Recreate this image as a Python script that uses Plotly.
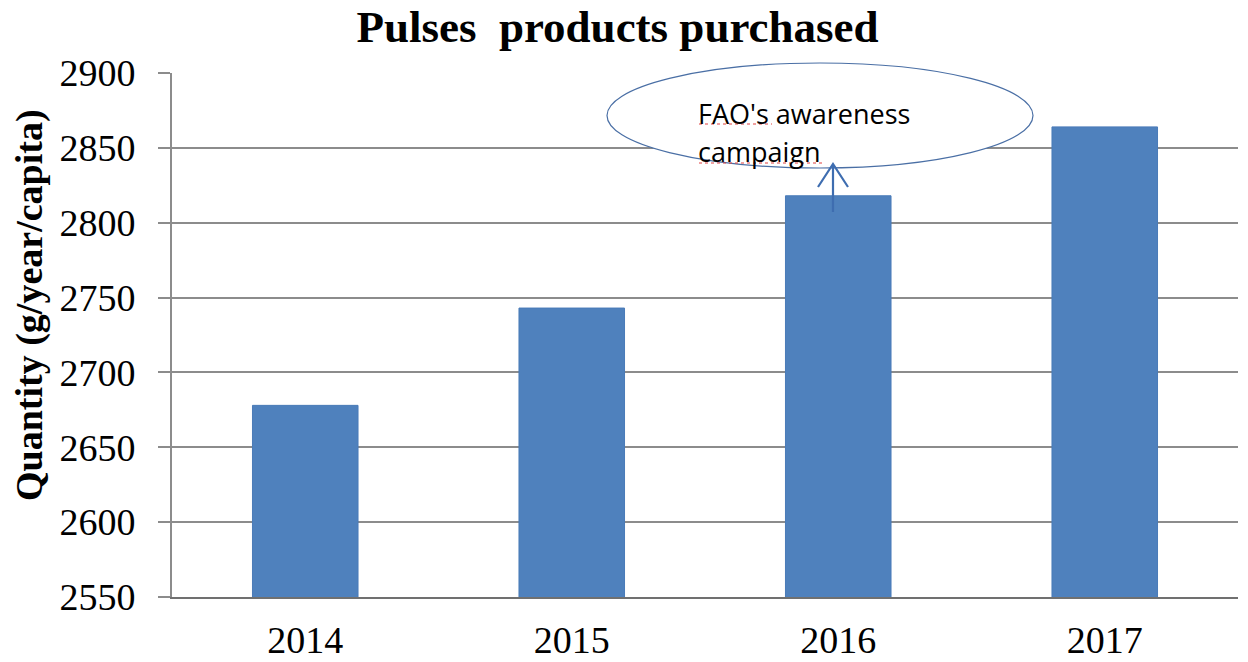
import plotly.graph_objects as go

years = ["2014", "2015", "2016", "2017"]
quantity = [2678, 2743, 2818, 2864]
y_ticks = [2550, 2600, 2650, 2700, 2750, 2800, 2850, 2900]

title_text = "Pulses\u00a0 products purchased"
y_title = "Quantity (g/year/capita)"
note_line1 = "FAO's awareness"
note_line2 = "campaign"

OFF = 8  # page body margin in the browser
W, H = 1248 - OFF, 662 - OFF
L, R, T, B = 172 - OFF, 10, 73 - OFF, 65
pw, ph = W - L - R, H - T - B

def px(xp):
    return (xp - OFF - L) / pw

def py(yp):
    return (H - B - (yp - OFF)) / ph

fig = go.Figure()
fig.add_trace(go.Bar(
    x=years, y=quantity,
    marker=dict(color="#4F81BD", line=dict(color="#4A7BB8", width=1)),
    hoverinfo="x+y",
))

serif = "Liberation Serif, Times New Roman, serif"
grid_col = "#8C8C8C"

fig.update_layout(
    template="none",
    width=W, height=H,
    margin=dict(l=L, r=R, t=T, b=B, pad=0, autoexpand=False),
    paper_bgcolor="white", plot_bgcolor="white",
    showlegend=False,
    bargap=0.604,
    title=dict(text=f"<b>{title_text}</b>", x=(617.5 - OFF) / W, xref="container", xanchor="center",
               y=1 - (26 - OFF) / H, yref="container", yanchor="middle",
               font=dict(family=serif, size=45, color="black")),
    xaxis=dict(type="category", showgrid=False, showline=True, linecolor="#707070", linewidth=2,
               ticks="", tickfont=dict(family=serif, size=38, color="black"),
               ticklabelstandoff=8, zeroline=False, automargin=False),
    yaxis=dict(range=[2550, 2900], tickvals=y_ticks, showgrid=True, gridcolor=grid_col, gridwidth=2,
               showline=True, linecolor=grid_col, linewidth=2,
               ticks="outside", ticklen=12, tickwidth=2, tickcolor=grid_col,
               tickfont=dict(family=serif, size=38, color="black"),
               ticklabelstandoff=15, zeroline=False, automargin=False),
)

# y-axis title
fig.add_annotation(text=f"<b>{y_title}</b>", textangle=-90, xref="paper", yref="paper",
                   x=px(29), y=py(305), xanchor="center", yanchor="middle", showarrow=False,
                   font=dict(family=serif, size=38, color="black"))

# callout ellipse
fig.add_shape(type="circle", xref="paper", yref="paper",
              x0=px(607), x1=px(1033), y0=py(168), y1=py(63),
              line=dict(color="#4A6FA5", width=1.2), fillcolor="white", layer="above")

sans = "Open Sans, Noto Sans, sans-serif"
fig.add_annotation(text=note_line1, xref="paper", yref="paper", x=px(696), y=py(113),
                   xanchor="left", yanchor="middle", showarrow=False,
                   font=dict(family=sans, size=27, color="black"))
fig.add_annotation(text=note_line2, xref="paper", yref="paper", x=px(696), y=py(152),
                   xanchor="left", yanchor="middle", showarrow=False,
                   font=dict(family=sans, size=27, color="black"))

# spell-check underlines
fig.add_shape(type="line", xref="paper", yref="paper", x0=px(699), x1=px(772), y0=py(124), y1=py(124),
              line=dict(color="#E04040", width=1, dash="dot"))
fig.add_shape(type="line", xref="paper", yref="paper", x0=px(699), x1=px(822), y0=py(163), y1=py(163),
              line=dict(color="#E04040", width=1, dash="dot"))

# arrow from 2016 bar to callout
arrow_col = "#3E6DB0"
fig.add_shape(type="path", xref="paper", yref="paper",
              path=f"M {px(833)},{py(212)} L {px(833)},{py(164)} "
                   f"M {px(818)},{py(187)} L {px(833)},{py(164)} L {px(848)},{py(187)}",
              line=dict(color=arrow_col, width=2.2), layer="above")

fig.write_html("out.html")
